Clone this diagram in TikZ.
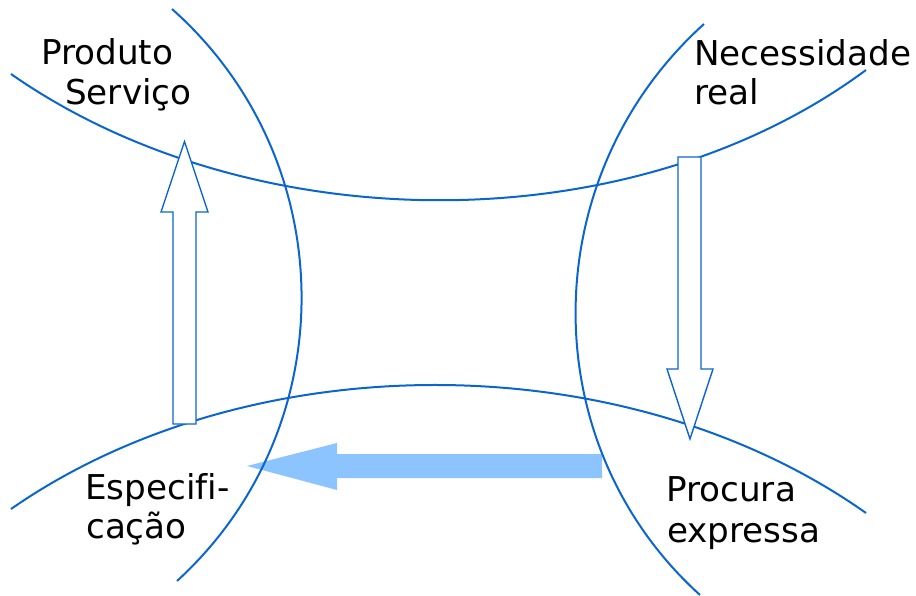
\documentclass[tikz,border=0pt]{standalone}
\usepackage{fontspec}
\setmainfont[Ligatures=NoCommon]{DejaVu Sans}
\definecolor{curveblue}{HTML}{0A66CC}
\definecolor{flowblue}{HTML}{8CC4FF}
\tikzset{
  band/.style={draw=curveblue, line width=2pt},
  hollowarrow/.style={draw=curveblue, fill=white, line width=1.4pt, line join=miter},
  fillarrow/.style={fill=flowblue},
  tagtext/.style={font=\fontsize{34.2}{40}\selectfont, inner sep=0pt, anchor=base west, text=black}
}
\begin{document}
\begin{tikzpicture}[x=1pt,y=-1pt]
\useasboundingbox (0,0) rectangle (916,596);

% end points of the four bounding curves
\coordinate (tl) at (11,74);   \coordinate (tr) at (866,70);
\coordinate (bl) at (11,509);  \coordinate (br) at (866,513);
\coordinate (lt) at (172,9);   \coordinate (lb) at (177,581);
\coordinate (rt) at (704,24);  \coordinate (rb) at (700,595);

% wide flow arrow from "Procura expressa" to "Especificacao"
\fill[fillarrow] (602,454) -- (602,478) -- (337,478) -- (337,490) -- (247,466)
  -- (337,443) -- (337,454) -- cycle;

% curved boundaries
\draw[band] (tl) .. controls (250,241) and (630,245) .. (tr);
\draw[band] (bl) .. controls (250,343) and (625,343) .. (br);
\draw[band] (lt) .. controls (342.5,160.4) and (345.3,427.3) .. (lb);
\draw[band] (rt) .. controls (535.3,176.1) and (531.6,442.5) .. (rb);

% hollow arrows
\draw[hollowarrow] (173,424) -- (196,424) -- (196,212) -- (208,212) -- (184.5,141.5)
  -- (161,212) -- (173,212) -- cycle;
\draw[hollowarrow] (678,157) -- (701,157) -- (701,369) -- (713,369) -- (690,439)
  -- (667,369) -- (678,369) -- cycle;

% labels
\node[tagtext] (produto) at (41,65) {Produto};
\node[tagtext] (servico) at (65,105) {Serviço};
\node[tagtext] (necessidade) at (694,66) {Necessidade};
\node[tagtext] (real) at (694,105) {real};
\node[tagtext] (especifi) at (85,499) {Especifi-};
\node[tagtext] (cacao) at (86,538) {cação};
\node[tagtext] (procura) at (666,501) {Procura};
\node[tagtext] (expressa) at (667,542) {expressa};
\end{tikzpicture}
\end{document}
